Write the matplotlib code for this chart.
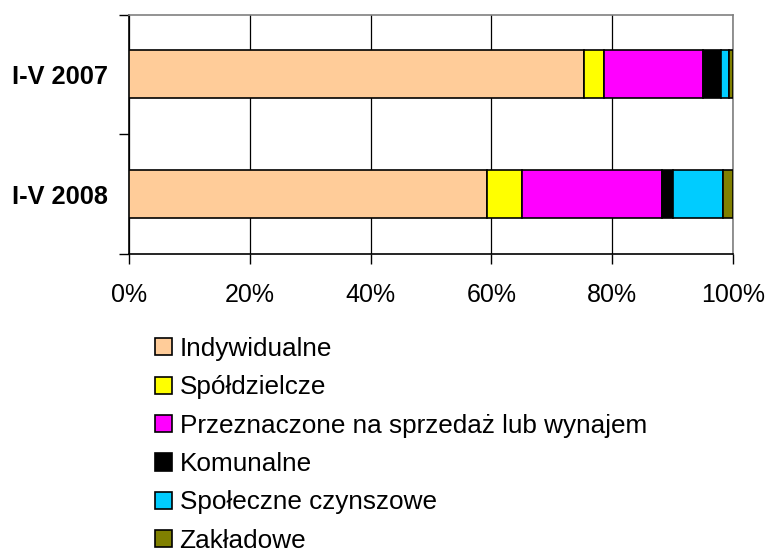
import matplotlib.pyplot as plt
import numpy as np

plt.rcParams['font.family'] = ['Liberation Sans', 'DejaVu Sans']

# --- Data (udział %) ---
periods = ["I-V 2007", "I-V 2008"]
categories = ["Indywidualne", "Spółdzielcze", "Przeznaczone na sprzedaż lub wynajem",
              "Komunalne", "Społeczne czynszowe", "Zakładowe"]
indywidualne = [75.4, 59.2]
spoldzielcze = [3.3, 5.9]
sprzedaz = [16.4, 23.1]
komunalne = [2.9, 1.8]
spoleczne = [1.4, 8.3]
zakladowe = [0.6, 1.7]
colors = ["#FFCC99", "#FFFF00", "#FF00FF", "#000000", "#00CCFF", "#808000"]

series = [indywidualne, spoldzielcze, sprzedaz, komunalne, spoleczne, zakladowe]
data = np.array(series, dtype=float)
data = data / data.sum(axis=0) * 100

fig = plt.figure(figsize=(7.69, 5.53), dpi=100)
ax = fig.add_axes([129 / 769, 1 - 254 / 553, 604 / 769, (254 - 14.5) / 553])

ypos = np.array([1, 0])  # 2007 on top
left = np.zeros(len(periods))
for vals, name, color in zip(data, categories, colors):
    ax.barh(ypos, vals, left=left, height=0.4, color=color,
            edgecolor="black", linewidth=1.2, label=name, zorder=3)
    left += vals

ax.set_xlim(0, 100)
ax.set_ylim(-0.5, 1.5)

ax.set_xticks(np.arange(0, 101, 20))
ax.set_xticklabels([f"{v}%" for v in range(0, 101, 20)], fontsize=18)
ax.tick_params(axis="x", direction="out", length=7, width=1, pad=14, color="black")
ax.grid(axis="x", color="black", linewidth=0.9, zorder=0)

ax.set_yticks([-0.5, 0.5, 1.5])
ax.set_yticklabels([])
ax.set_yticks(ypos, minor=True)
ax.set_yticklabels(periods, minor=True, fontsize=18.3, fontweight="bold")
ax.tick_params(axis="y", which="major", direction="out", length=7, width=1)
ax.tick_params(axis="y", which="minor", length=0, pad=15)

for side in ["top", "right"]:
    ax.spines[side].set_color("#808080")
    ax.spines[side].set_linewidth(1.2)
for side in ["left", "bottom"]:
    ax.spines[side].set_color("black")
    ax.spines[side].set_linewidth(1.2)

fig.legend(loc="upper left", bbox_to_anchor=(155 / 769, 1 - 337 / 553),
           frameon=False, fontsize=18.8, borderpad=0, borderaxespad=0,
           handlelength=0.64, handleheight=0.64, handletextpad=0.3,
           labelspacing=0.55)

plt.savefig("out.png", dpi=100)
